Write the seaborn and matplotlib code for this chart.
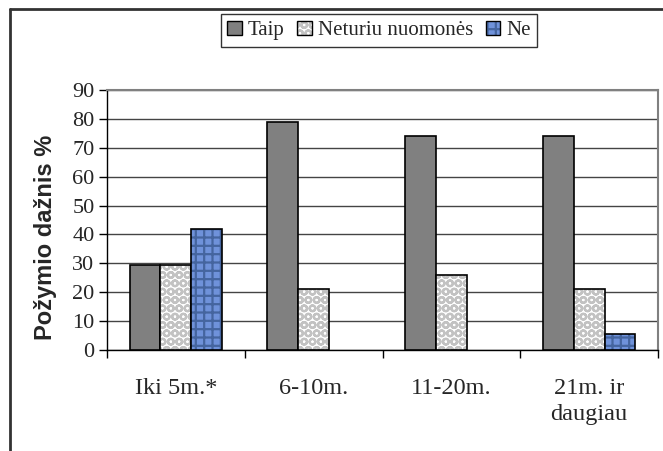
import matplotlib
matplotlib.use("Agg")
import matplotlib.pyplot as plt
import seaborn as sns
import pandas as pd
from matplotlib.patches import Patch
from matplotlib.lines import Line2D
from matplotlib.colors import to_rgba

categories = ["Iki 5m.*", "6-10m.", "11-20m.", "21m. ir\ndaugiau"]
series = ["Taip", "Neturiu nuomonės", "Ne"]
taip = [29.5, 79, 74, 74]
neturiu = [29.5, 21, 26, 21]
ne = [42, 0, 0, 5.5]
y_ticks = [0, 10, 20, 30, 40, 50, 60, 70, 80, 90]

rows = []
for s, vals in zip(series, [taip, neturiu, ne]):
    for c, v in zip(categories, vals):
        rows.append({"cat": c, "series": s, "val": v})
df = pd.DataFrame(rows)

sns.set_style("white")
plt.rcParams["font.family"] = ["Liberation Serif", "DejaVu Serif"]
plt.rcParams["hatch.linewidth"] = 1.6

fig = plt.figure(figsize=(6.63, 4.51), dpi=100)
ax = fig.add_axes([107/663, 1-350/451, (658-107)/663, (350-90)/451])

face = ["#808080", "#ffffff", "#6f92da"]
hatches = [None, "OO", "++"]
hcolors = [None, "#c2c2c2", "#45659f"]

sns.barplot(data=df, x="cat", y="val", hue="series", order=categories,
            hue_order=series, palette=face, width=0.67, edgecolor="black",
            linewidth=1.2, saturation=1, legend=False, ax=ax, zorder=3)

for i, cont in enumerate(ax.containers):
    for p in cont:
        p.set_facecolor(face[i])
        p.set_edgecolor("black")
        if p.get_height() == 0:
            p.set_linewidth(0)
        if hatches[i]:
            p.set_hatch(hatches[i])
            p._hatch_color = to_rgba(hcolors[i])

ax.set_ylim(0, 90)
ax.set_xlim(-0.5, 3.5)
ax.set_yticks(y_ticks)
ax.yaxis.grid(True, color="#444444", linewidth=1)
ax.set_axisbelow(True)
ax.set_xlabel("")
ax.set_ylabel("Požymio dažnis %", fontsize=17, fontweight="bold",
              family=["Liberation Sans", "DejaVu Sans"], va="center", ha="center")
ax.yaxis.set_label_coords((46 - 107) / 551, (350 - 237) / 260)

ax.tick_params(axis="y", which="major", left=True, length=6, width=1,
               color="black", labelsize=16, pad=3)
ax.tick_params(axis="x", which="major", bottom=False, length=0,
               labelsize=17.5, pad=20)
ax.set_xticks([-0.5, 0.5, 1.5, 2.5, 3.5], minor=True)
ax.tick_params(axis="x", which="minor", bottom=True, length=6, width=1,
               color="black")
for lab in ax.get_xticklabels():
    lab.set_linespacing(1.3)

for s in ["left", "bottom"]:
    ax.spines[s].set_color("black")
    ax.spines[s].set_linewidth(1)
for s in ["top", "right"]:
    ax.spines[s].set_color("#808080")
    ax.spines[s].set_linewidth(1.5)

handles = []
for i in range(3):
    h = Patch(facecolor=face[i], edgecolor="black", linewidth=1,
              hatch=hatches[i])
    if hatches[i]:
        h._hatch_color = to_rgba(hcolors[i])
    handles.append(h)
leg = fig.legend(handles, series, loc="center", bbox_to_anchor=(379/663, 1-30.5/451),
                 ncol=3, frameon=True, fontsize=15, handlelength=0.7,
                 handleheight=0.7, handletextpad=0.3, columnspacing=0.6,
                 borderpad=0.3, fancybox=False)
leg.get_frame().set_edgecolor("black")
leg.get_frame().set_linewidth(1)

fig.add_artist(Line2D([10/663, 10/663], [0, 1-9/451], color="#333333",
                      linewidth=2, transform=fig.transFigure))
fig.add_artist(Line2D([10/663, 1], [1-9/451, 1-9/451], color="#333333",
                      linewidth=2, transform=fig.transFigure))

fig.savefig("out.png", dpi=100)
